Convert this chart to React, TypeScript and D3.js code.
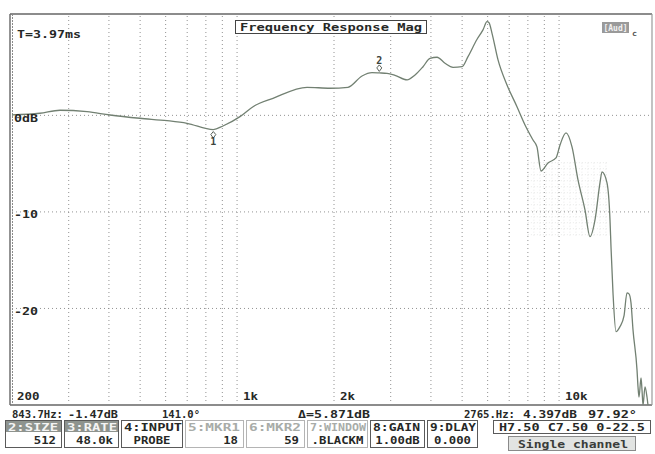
import React from "react";
import * as d3 from "d3";

// measured response (Hz, dB)
const freqHz = [200, 244, 282, 342, 403, 499, 606, 699, 843.7, 904, 1021, 1121, 1293, 1649, 1944, 2210, 2444, 2624, 2765, 2922, 3094, 3372, 3570, 3780, 3974, 4178, 4424, 4684, 4996, 5214, 5563, 5804, 5974, 6060, 6191, 6463, 6891, 7401, 7839, 8300, 8538, 8787, 9238, 9784, 10068, 10510, 10969, 11450, 12036, 12474, 12930, 13398, 13594, 14088, 14394, 14497, 14706, 15024, 15459, 15909, 16254, 16488, 16726, 16968, 17461, 17587, 17713, 17967, 18096, 18226, 18488, 18752, 18886];
const magDb = [0.05, 0.22, 0.53, 0.38, 0.04, -0.3, -0.55, -0.82, -1.47, -1.1, -0.13, 0.9, 1.77, 2.91, 2.81, 2.91, 4.08, 4.42, 4.397, 4.36, 4.15, 3.67, 4.18, 5.04, 5.91, 6.02, 5.4, 4.98, 5.04, 6.08, 7.88, 8.85, 9.7, 9.6, 8.5, 5.74, 3.15, 0.9, -0.99, -2.55, -3.27, -5.76, -4.93, -4.41, -3.07, -1.82, -3.27, -6.69, -9.8, -12.56, -10.83, -7.0, -5.86, -7.0, -10.83, -13.63, -18.39, -22.4, -21.88, -20.78, -18.39, -18.49, -19.42, -22.22, -26.36, -28.13, -29.17, -27.2, -28.45, -30.0, -28.13, -29.17, -30.0];

const gridFreqs = [300, 400, 500, 600, 700, 800, 900, 1000, 2000, 3000, 4000, 5000, 6000, 7000, 8000, 9000, 10000];
const dbTicks = [0, -10, -20];
const dbLabels = ["0dB", "-10", "-20"];
const freqTicks = [200, 1000, 2000, 10000];
const freqLabels = ["200", "1k", "2k", "10k"];

const markerIds = ["1", "2"];
const markerFreqs = [843.7, 2765];
const markerDbs = [-1.47, 4.397];

// faint zoom box region (Hz / dB)
const boxFreqs = [8000, 14200];
const boxDbs = [-4.9, -12.6];

const buttonHeads = ["2:SIZE", "3:RATE", "4:INPUT", "5:MKR1", "6:MKR2", "7:WINDOW", "8:GAIN", "9:DLAY"];
const buttonValues = ["512", "48.0k", "PROBE", "18", "59", ".BLACKM", "1.00dB", "0.000"];

const MONO = "'DejaVu Sans Mono', monospace";
const INK = "#262826";

function T(props: any) {
  const { x, y, w, children, size = 11, fill = INK, anchor = "start", weight = "bold" } = props;
  return (
    <text
      x={x}
      y={y}
      textLength={w}
      lengthAdjust="spacingAndGlyphs"
      fontFamily={MONO}
      fontSize={size}
      fontWeight={weight}
      fill={fill}
      textAnchor={anchor}
    >
      {children}
    </text>
  );
}

export default function App() {
  const left = 10, right = 652, top = 14, bottom = 405;
  const x = d3.scaleLog().domain([200, 20000]).range([12, 656]);
  const y = d3.scaleLinear().domain([-30, 10.5]).range([bottom, top]);

  const pts = freqHz.map((f, i) => [f, magDb[i]] as [number, number]);
  const line = d3
    .line<[number, number]>()
    .x((d) => x(d[0]))
    .y((d) => y(d[1]))
    .curve(d3.curveMonotoneX);

  const bx0 = x(boxFreqs[0]), bx1 = x(boxFreqs[1]);
  const by0 = y(boxDbs[0]), by1 = y(boxDbs[1]);
  const fineX = d3.range(bx0, bx1, 6);
  const fineY = d3.range(by0, by1, 6);

  // button cell layout
  const cellX = [5, 64, 121, 185, 246, 307, 370, 427];
  const cellW = [57, 55, 62, 59, 59, 61, 55, 51];
  const headW = [50, 50, 58, 52, 52, 56, 47, 46];
  const headStyle = ["inv", "inv", "dark", "dim", "dim", "dim", "dark", "dark"];

  return (
    <svg
      width={655}
      height={454}
      style={{ position: "absolute", left: 0, top: 0, background: "#fff" }}
    >
      <defs>
        <clipPath id="plot">
          <rect x={left} y={top} width={right - left} height={bottom - top} />
        </clipPath>
      </defs>
      <rect width={655} height={454} fill="#fff" />

      {/* faint zoom box */}
      <g stroke="#d2d5d2" strokeWidth={0.5} strokeDasharray="1,2">
        {fineX.map((v, i) => (
          <line key={"fx" + i} x1={v} x2={v} y1={by0} y2={by1} />
        ))}
        {fineY.map((v, i) => (
          <line key={"fy" + i} x1={bx0} x2={bx1} y1={v} y2={v} />
        ))}
      </g>

      {/* grid */}
      <g stroke="#555" strokeWidth={0.9} strokeDasharray="1,3" opacity={0.7}>
        {gridFreqs.map((f) => (
          <line key={f} x1={x(f)} x2={x(f)} y1={top + 2} y2={bottom - 2} />
        ))}
        {dbTicks.map((d) => (
          <line key={d} x1={left + 2} x2={right - 2} y1={y(d)} y2={y(d)} />
        ))}
      </g>

      {/* frame */}
      <line x1={left} x2={right} y1={top} y2={top} stroke="#8c8c8c" strokeWidth={2} />
      <line x1={left} x2={right} y1={bottom} y2={bottom} stroke="#8c8c8c" strokeWidth={2} />
      <line x1={right} x2={right} y1={top} y2={bottom} stroke="#9a9a9a" strokeWidth={1.2} />
      <line x1={left} x2={left} y1={top} y2={bottom} stroke="#6f6f6f" strokeWidth={1.5} />
      <line x1={left + 2.5} x2={left + 2.5} y1={top} y2={bottom} stroke="#8a8a8a" strokeWidth={1} strokeDasharray="2,1" />

      {/* response curve */}
      <path
        d={line(pts) || ""}
        fill="none"
        stroke="#728072"
        strokeWidth={1.3}
        clipPath="url(#plot)"
      />

      {/* markers */}
      {markerIds.map((id, i) => {
        const mx = x(markerFreqs[i]);
        const my = y(markerDbs[i]);
        const below = i === 0;
        const sy = below ? my + 2 : my - 8;
        return (
          <g key={id}>
            <path
              d={`M${mx},${sy} l-2.5,3 l2.5,3.5 l2.5,-3.5 z`}
              fill="#fff"
              stroke="#5a625a"
              strokeWidth={1}
            />
            <T x={mx} y={below ? my + 15 : my - 9} anchor="middle" size={10} fill="#3d443d">
              {id}
            </T>
          </g>
        );
      })}

      {/* axis labels */}
      {dbTicks.map((d, i) => (
        <T key={d} x={14} y={y(d) + 6.5} w={24} size={10}>
          {dbLabels[i]}
        </T>
      ))}
      {freqTicks.map((f, i) => (
        <T key={f} x={x(f) + (i === 0 ? 5 : 6)} y={400} w={freqLabels[i].length * 7.5} size={10}>
          {freqLabels[i]}
        </T>
      ))}

      {/* header texts */}
      <T x={17} y={38} w={64} size={10}>T=3.97ms</T>
      <rect x={235.5} y={20.5} width={191} height={13} fill="#fff" stroke="#444" strokeWidth={1} />
      <T x={240} y={31} w={182} size={10.5}>Frequency Response Mag</T>
      <rect x={602} y={22} width={27} height={11} fill="#9a9a9a" />
      <T x={603.5} y={31} w={24} size={9.5} fill="#f2f2f2">[Aud]</T>
      <T x={632} y={35.5} w={5} size={7.5} fill="#555">c</T>

      {/* status line */}
      <T x={12} y={418} w={51}>843.7Hz:</T>
      <T x={68} y={418} w={50}>-1.47dB</T>
      <T x={162} y={418} w={38}>141.0°</T>
      <T x={298} y={418} w={72}>Δ=5.871dB</T>
      <T x={464} y={418} w={51}>2765.Hz:</T>
      <T x={523} y={418} w={54}>4.397dB</T>
      <T x={588} y={418} w={49}>97.92°</T>

      {/* button cells */}
      {buttonHeads.map((h, i) => {
        const cx = cellX[i];
        const st = headStyle[i];
        const headFill = st === "inv" ? "#f4f4f4" : st === "dim" ? "#a8aca8" : INK;
        const border = st === "dim" ? "#b4b4b4" : "#5a5a5a";
        const v = buttonValues[i];
        const centred = i === 2 || i === 5 || i === 6 || i === 7;
        return (
          <g key={h}>
            {st === "inv" && <rect x={cx + 1} y={421} width={cellW[i] - 2} height={11} fill="#8e938e" />}
            <rect x={cx + 0.5} y={420.5} width={cellW[i] - 1} height={27} fill="none" stroke={border} strokeWidth={1} />
            <T x={cx + 3} y={430.5} w={headW[i]} fill={headFill}>
              {h}
            </T>
            <T
              x={centred ? cx + cellW[i] / 2 : cx + cellW[i] - 6}
              y={443.5}
              w={v.length * 7.4}
              anchor={centred ? "middle" : "end"}
              fill={INK}
            >
              {v}
            </T>
          </g>
        );
      })}

      <rect x={493.5} y={420.5} width={157} height={13} fill="none" stroke="#5a5a5a" strokeWidth={1} />
      <T x={499} y={431} w={146}>H7.50 C7.50 0-22.5</T>
      <rect x={508.5} y={436.5} width={127} height={14} fill="#e2e4e2" stroke="#8a8a8a" strokeWidth={1} />
      <T x={518} y={447.5} w={110} fill="#3a3d3a">Single channel</T>
    </svg>
  );
}
